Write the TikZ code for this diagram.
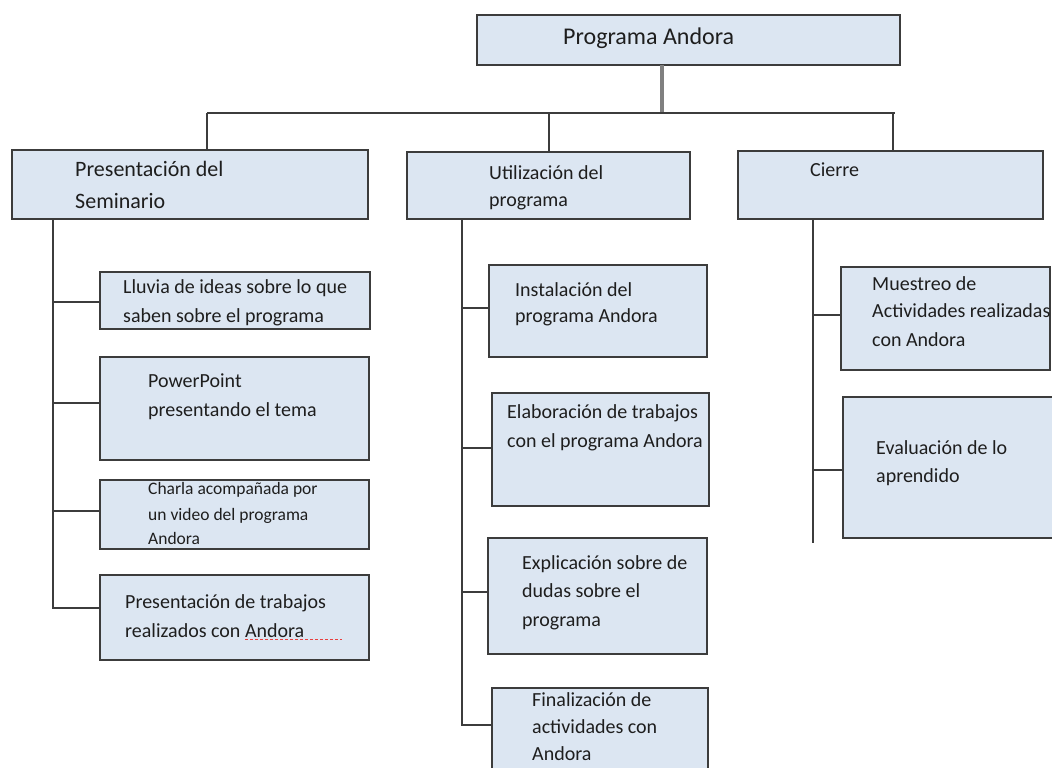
\documentclass[tikz,border=0pt]{standalone}
\usepackage{fontspec}
\setmainfont{Carlito}
\definecolor{boxfill}{HTML}{DCE6F2}
\definecolor{boxline}{HTML}{3C3C3C}
\definecolor{txtcol}{HTML}{1E1E1E}
\definecolor{squig}{HTML}{E84040}
\newcommand\tl[5][20]{\node[txt,font=\fontsize{#1}{#1}\selectfont] (#2) at (#3,#4) {#5};}
\newcommand\bx[5]{\node[box,anchor=north west,minimum width=#4pt-#2pt,minimum height=#5pt-#3pt] (#1) at (#2,#3) {};}
\tikzset{
  box/.style={draw=boxline,fill=boxfill,line width=2.2pt,inner sep=0pt,outer sep=0pt},
  txt/.style={anchor=west,inner sep=0pt,text height=0.9em,text depth=0pt,text=txtcol},
  conn/.style={draw=boxline,line width=2pt},
  stem/.style={draw=gray,line width=3.2pt}
}
\begin{document}
\begin{tikzpicture}[x=1pt,y=-1pt]
\useasboundingbox (0,0) rectangle (1052,768);
\clip (0,0) rectangle (1052,768);
\fill[white] (0,0) rectangle (1052,768);
% boxes
\bx{top}{477}{15}{900}{65}
\bx{pres}{12}{150}{368}{219}
\bx{util}{407}{152}{690}{219}
\bx{cier}{738}{151}{1043}{219}
\bx{l1}{100}{272}{370}{329}
\bx{l2}{100}{357}{369}{460}
\bx{l3}{100}{480}{369}{549}
\bx{l4}{100}{575}{369}{660}
\bx{m1}{489}{265}{707}{357}
\bx{m2}{492}{393}{709}{506}
\bx{m3}{488}{538}{707}{654}
\bx{m4}{492}{688}{708}{800}
\bx{r1}{841}{267}{1050}{370}
\bx{r2}{843}{397}{1062}{538}
% coordinates
\coordinate (hl) at (207,113);
\coordinate (hr) at (895,113);
\coordinate (lt) at (53,608);
\coordinate (mt) at (462,725);
\coordinate (rt) at (813,543);
% connectors from top
\draw[stem] (top.south -| 662,0) -- (662,113);
\draw[conn] (hl) -- (hr);
\draw[conn] (hl) -- (hl |- pres.north);
\draw[conn] (549,113) -- (549,113 |- util.north);
\draw[conn] (893,113) -- (893,113 |- cier.north);
% left branch
\draw[conn] (pres.south -| lt) -- (lt) -- (lt -| l4.west);
\draw[conn] (lt |- 0,302) -- (l1.west |- 0,302);
\draw[conn] (lt |- 0,403) -- (l2.west |- 0,403);
\draw[conn] (lt |- 0,511) -- (l3.west |- 0,511);
% middle branch
\draw[conn] (util.south -| mt) -- (mt) -- (mt -| m4.west);
\draw[conn] (mt |- 0,308) -- (m1.west |- 0,308);
\draw[conn] (mt |- 0,448) -- (m2.west |- 0,448);
\draw[conn] (mt |- 0,592) -- (m3.west |- 0,592);
% right branch
\draw[conn] (cier.south -| rt) -- (rt);
\draw[conn] (rt |- 0,315) -- (r1.west |- 0,315);
\draw[conn] (rt |- 0,470) -- (r2.west |- 0,470);
% texts
\tl[24]{ttop}{563}{40}{Programa Andora}
\tl[22]{tp1}{75}{172}{Presentación del}
\tl[22]{tp2}{75}{204}{Seminario}
\tl{tu1}{489}{175}{Utilización del}
\tl{tu2}{489}{202}{programa}
\tl{tc1}{810}{172}{Cierre}
\tl{ta1}{123}{289}{Lluvia de ideas sobre lo que}
\tl{ta2}{123}{318}{saben sobre el programa}
\tl{tb1}{148}{383}{PowerPoint}
\tl{tb2}{148}{412}{presentando el tema}
\tl[17.5]{tc31}{148}{490}{Charla acompañada por}
\tl[17.5]{tc32}{148}{516}{un video del programa}
\tl[17.5]{tc33}{148}{540}{Andora}
\tl{td1}{125}{604}{Presentación de trabajos}
\tl{td2}{125}{633}{realizados con Andora}
\draw[squig,line width=0.8pt,dash pattern=on 3pt off 2pt] (245,639) -- (342,639);
\tl{te1}{515}{292}{Instalación del}
\tl{te2}{515}{318}{programa Andora}
\tl{tf1}{507}{414}{Elaboración de trabajos}
\tl{tf2}{507}{443}{con el programa Andora}
\tl{tg1}{522}{565}{Explicación sobre de}
\tl{tg2}{522}{593}{dudas sobre el}
\tl{tg3}{522}{622}{programa}
\tl{th1}{532}{702}{Finalización de}
\tl{th2}{532}{729}{actividades con}
\tl{th3}{532}{756}{Andora}
\tl{ti1}{872}{286}{Muestreo de}
\tl{ti2}{872}{313}{Actividades realizadas}
\tl{ti3}{872}{342}{con Andora}
\tl{tj1}{876}{450}{Evaluación de lo}
\tl{tj2}{876}{478}{aprendido}
\end{tikzpicture}
\end{document}
